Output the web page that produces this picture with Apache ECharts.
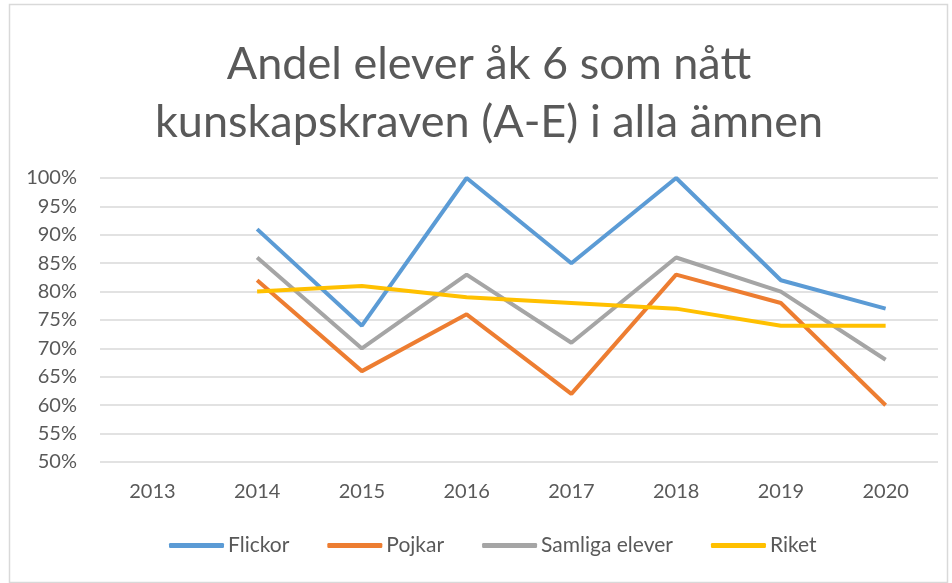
<!DOCTYPE html>
<html>
<head>
<meta charset="utf-8">
<script src="https://cdn.jsdelivr.net/npm/echarts@6/dist/echarts.min.js"></script>
<style>
	html, body { margin: 0; padding: 0; background: #fff; }
	#container { width: 952px; height: 583px; }
</style>
</head>
<body>
<div id="container"></div>
<script>
const Years = ['2013', '2014', '2015', '2016', '2017', '2018', '2019', '2020'];
const Flickor = ['-', 91, 74, 100, 85, 100, 82, 77];
const Pojkar = ['-', 82, 66, 76, 62, 83, 78, 60];
const Samliga = ['-', 86, 70, 83, 71, 86, 80, 68];
const Riket = ['-', 80, 81, 79, 78, 77, 74, 74];

function Line(name, data, color) {
	return {
		name: name, type: 'line', data: data, showSymbol: false, symbol: 'none',
		lineStyle: {width: 4, color: color}, itemStyle: {color: color}
	};
}

const option = {
	backgroundColor: '#fff',
	animation: false,
	title: {
		text: 'Andel elever åk 6 som nått\nkunskapskraven (A-E) i alla ämnen',
		left: 484, top: 30, textAlign: 'center',
		textStyle: {
			color: '#595959', fontFamily: 'Lato', fontWeight: 'normal', fontSize: 45, lineHeight: 58,
		}
	},
	legend: {
		top: 535, left: 169, padding: 0, itemWidth: 55, itemHeight: 5, itemGap: 38, icon: 'roundRect',
		textStyle: {color: '#595959', fontFamily: 'Lato', fontSize: 21, padding: [0, 0, 0, -1]},
		data: ['Flickor', 'Pojkar', 'Samliga elever', 'Riket']
	},
	grid: {
		left: 100, right: 14, top: 178, bottom: 121,
	},
	xAxis: {
		type: 'category', boundaryGap: true, data: Years,
		axisLine: {show: false}, axisTick: {show: false},
		axisLabel: {color: '#595959', fontFamily: 'Lato', fontSize: 20, margin: 20}
	},
	yAxis: {
		type: 'value', min: 50, max: 100, interval: 5,
		axisLine: {show: false}, axisTick: {show: false},
		axisLabel: {formatter: '{value}%', color: '#595959', fontFamily: 'Lato', fontSize: 20, margin: 23},
		splitLine: {lineStyle: {color: '#d9d9d9', width: 1.5}}
	},
	graphic: [{
		type: 'rect', left: 7, top: 2, shape: {width: 938, height: 578},
		style: {fill: 'none', stroke: '#d9d9d9', lineWidth: 1.5}
	}],
	series: [
		Line('Flickor', Flickor, '#5B9BD5'),
		Line('Pojkar', Pojkar, '#ED7D31'),
		Line('Samliga elever', Samliga, '#A5A5A5'),
		Line('Riket', Riket, '#FFC000')
	]
};
echarts.init(document.getElementById('container')).setOption(option);
</script>
</body>
</html>
